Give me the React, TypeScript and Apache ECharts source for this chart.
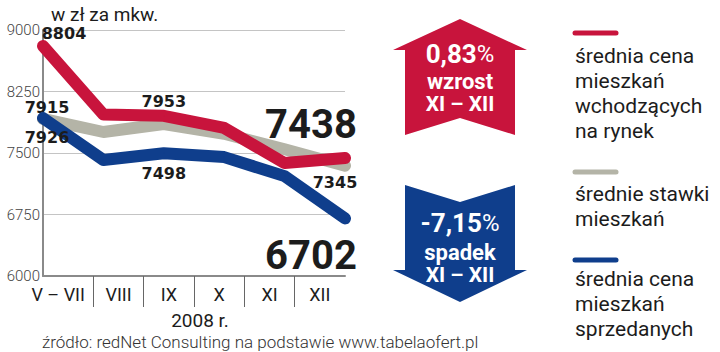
import React, { useEffect, useRef } from 'react';
import * as echarts from 'echarts';

const categories = ['V – VII', 'VIII', 'IX', 'X', 'XI', 'XII'];
const newListingPrices = [8804, 7970, 7953, 7805, 7377, 7438];
const rentRates = [7915, 7756, 7854, 7735, 7545, 7345];
const soldPrices = [7926, 7415, 7498, 7450, 7218, 6702];
const yTicks = [6000, 6750, 7500, 8250, 9000];

const seriesNames = [
  'średnia cena\nmieszkań\nwchodzących\nna rynek',
  'średnie stawki\nmieszkań',
  'średnia cena\nmieszkań\nsprzedanych',
];
const unitTitle = 'w zł za mkw.';
const yearLabel = '2008 r.';
const sourceText = 'źródło: redNet Consulting na podstawie www.tabelaofert.pl';
const upChange = '0,83';
const upWord = 'wzrost';
const downChange = '-7,15';
const downWord = 'spadek';
const changePeriod = 'XI – XII';

const RED = '#c8143c';
const GRAY = '#b4b4a7';
const BLUE = '#0f3e8c';
const INK = '#1c1c1c';

const smallLabel = (offset: number[]) => ({
  show: true,
  position: 'inside',
  offset,
  fontFamily: 'DejaVu Sans',
  fontWeight: 'bold',
  fontSize: 16,
  color: INK,
});
const bigLabel = (offset: number[]) => ({
  show: true,
  position: 'inside',
  offset,
  fontFamily: 'Roboto',
  fontWeight: 'bold',
  fontSize: 40,
  color: INK,
});

const withLabels = (values: number[], labels: Record<number, any>) =>
  values.map((v, i) => (labels[i] ? { value: v, label: labels[i] } : v));

export default function App() {
  const ref = useRef<HTMLDivElement>(null);

  useEffect(() => {
    if (!ref.current) return;
    const chart = echarts.init(ref.current, undefined, { renderer: 'svg' });

    const lineSeries = (name: string, color: string, data: any[], z: number) => ({
      type: 'line',
      name,
      data,
      xAxisIndex: 0,
      yAxisIndex: 0,
      symbol: 'circle',
      symbolSize: 1,
      showSymbol: true,
      clip: false,
      z,
      itemStyle: { color },
      lineStyle: { color, width: 12, cap: 'round', join: 'round' },
      label: { show: false },
      emphasis: { disabled: true },
    });

    const pctRich = {
      b: { fill: '#fff', fontFamily: 'Roboto', fontWeight: 'bold', fontSize: 26 },
      p: { fill: '#fff', fontFamily: 'Roboto', fontWeight: 'normal', fontSize: 24 },
    };

    const option: any = {
      animation: false,
      textStyle: { fontFamily: 'Roboto' },
      grid: { left: 43, top: 30, width: 302, height: 246, outerBoundsMode: 'none' },
      xAxis: [
        {
          type: 'category',
          data: categories,
          boundaryGap: false,
          show: false,
        },
        {
          type: 'category',
          position: 'bottom',
          boundaryGap: true,
          data: categories.map((c, i) =>
            i === 0 ? { value: c, textStyle: { padding: [0, 20, 0, 0] } } : c
          ),
          axisLine: { show: true, lineStyle: { color: '#8a8a8a', width: 2 } },
          axisTick: { show: false },
          axisLabel: { show: true, interval: 0, color: INK, fontSize: 18, margin: 9, fontFamily: 'Roboto' },
          splitLine: { show: false },
        },
        {
          type: 'category',
          position: 'bottom',
          boundaryGap: false,
          data: Array.from({ length: categories.length + 1 }, (_, i) => 'b' + i),
          axisLine: { show: false },
          axisLabel: { show: false },
          axisTick: {
            show: true,
            length: 31,
            interval: (i: number) => i > 0 && i < categories.length,
            lineStyle: { color: '#666', width: 1 },
          },
          splitLine: { show: false },
        },
      ],
      yAxis: {
        type: 'value',
        min: yTicks[0],
        max: yTicks[yTicks.length - 1],
        interval: yTicks[1] - yTicks[0],
        axisLine: { show: true, lineStyle: { color: '#8a8a8a', width: 2 } },
        axisTick: { show: false },
        axisLabel: {
          color: '#444', fontSize: 15, margin: 3, fontFamily: 'Roboto', fontWeight: 300,
          formatter: (v: number) => String(v),
        },
        splitLine: { show: true, lineStyle: { color: '#c4c4c4', width: 1 } },
      },
      series: [
        lineSeries(seriesNames[1], GRAY, withLabels(rentRates, {
          0: smallLabel([4, -11]),
          5: smallLabel([-10, 17]),
        }), 2),
        lineSeries(seriesNames[2], BLUE, withLabels(soldPrices, {
          0: smallLabel([4, 19]),
          2: smallLabel([0, 20]),
          5: bigLabel([-34, 37]),
        }), 3),
        lineSeries(seriesNames[0], RED, withLabels(newListingPrices, {
          0: smallLabel([21, -13]),
          2: smallLabel([0, -14]),
          5: bigLabel([-34, -34]),
        }), 4),
      ],
      graphic: [
        {
          type: 'text', x: 51, y: 14,
          style: { text: unitTitle, fill: INK, font: '19px Roboto', verticalAlign: 'middle' },
        },
        {
          type: 'text', x: 200, y: 320,
          style: { text: yearLabel, fill: INK, font: '19px Roboto', align: 'center', verticalAlign: 'middle' },
        },
        {
          type: 'text', x: 42, y: 342,
          style: { text: sourceText, fill: '#333', font: '300 17px Roboto', verticalAlign: 'middle' },
        },
        {
          type: 'polygon',
          shape: { points: [[460, 19], [527, 50], [515, 50], [515, 135], [460, 118], [405, 135], [405, 50], [393, 50]] },
          style: { fill: RED },
        },
        {
          type: 'polygon',
          shape: { points: [[405, 185], [460, 202], [515, 185], [515, 270], [527, 270], [460, 302], [393, 270], [405, 270]] },
          style: { fill: BLUE },
        },
        {
          type: 'text', x: 460, y: 54,
          style: { text: `{b|${upChange}}{p|%}`, align: 'center', verticalAlign: 'middle', rich: pctRich },
        },
        {
          type: 'text', x: 460, y: 81,
          style: { text: upWord, fill: '#fff', font: 'bold 22px Roboto', align: 'center', verticalAlign: 'middle' },
        },
        {
          type: 'text', x: 460, y: 104,
          style: { text: changePeriod, fill: '#fff', font: 'bold 21px Roboto', align: 'center', verticalAlign: 'middle' },
        },
        {
          type: 'text', x: 460, y: 223,
          style: { text: `{b|${downChange}}{p|%}`, align: 'center', verticalAlign: 'middle', rich: pctRich },
        },
        {
          type: 'text', x: 460, y: 252,
          style: { text: downWord, fill: '#fff', font: 'bold 22px Roboto', align: 'center', verticalAlign: 'middle' },
        },
        {
          type: 'text', x: 460, y: 275,
          style: { text: changePeriod, fill: '#fff', font: 'bold 21px Roboto', align: 'center', verticalAlign: 'middle' },
        },
        {
          type: 'line', shape: { x1: 575, y1: 33, x2: 616, y2: 33 },
          style: { stroke: RED, lineWidth: 5, lineCap: 'round' },
        },
        {
          type: 'text', x: 575, y: 43,
          style: { text: seriesNames[0], fill: INK, font: '21px Roboto', lineHeight: 25, verticalAlign: 'top' },
        },
        {
          type: 'line', shape: { x1: 575, y1: 172, x2: 616, y2: 172 },
          style: { stroke: GRAY, lineWidth: 5, lineCap: 'round' },
        },
        {
          type: 'text', x: 575, y: 181,
          style: { text: seriesNames[1], fill: INK, font: '21px Roboto', lineHeight: 25, verticalAlign: 'top' },
        },
        {
          type: 'line', shape: { x1: 575, y1: 260, x2: 616, y2: 260 },
          style: { stroke: BLUE, lineWidth: 5, lineCap: 'round' },
        },
        {
          type: 'text', x: 575, y: 266,
          style: { text: seriesNames[2], fill: INK, font: '21px Roboto', lineHeight: 25, verticalAlign: 'top' },
        },
      ],
    };

    chart.setOption(option);
    return () => chart.dispose();
  }, []);

  return (
    <div
      ref={ref}
      style={{ position: 'fixed', left: 0, top: 0, width: 720, height: 352, background: '#fff' }}
    />
  );
}
